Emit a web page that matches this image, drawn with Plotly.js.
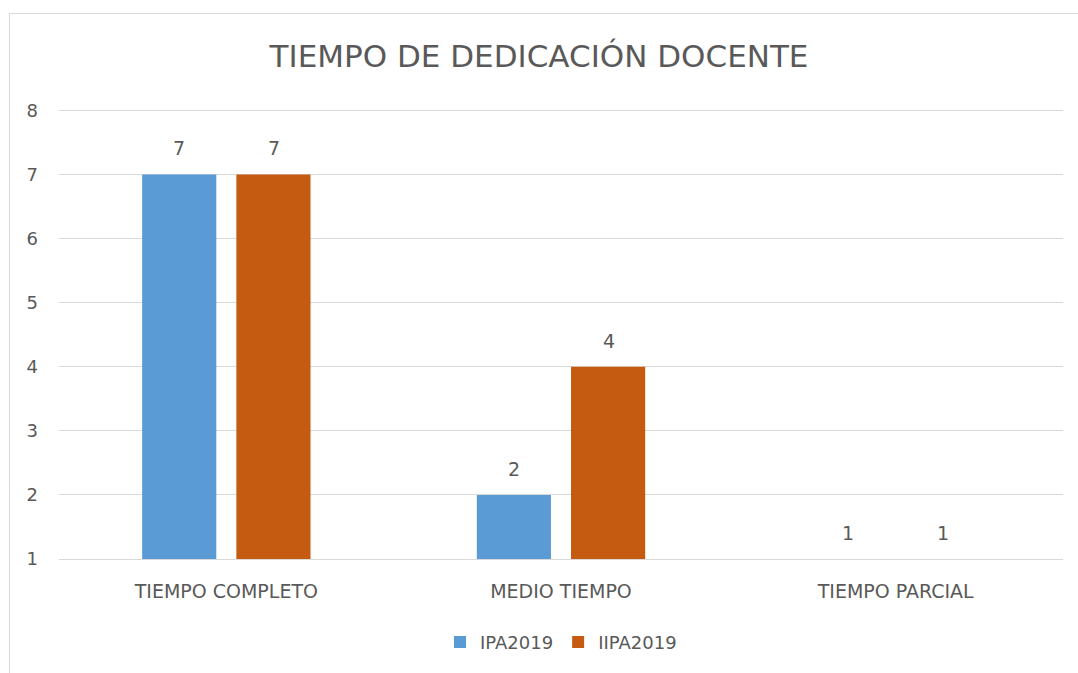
<!DOCTYPE html>
<html>
<head>
<meta charset="utf-8">
<script src="https://cdn.plot.ly/plotly-3.0.1.min.js"></script>
<style>
  html, body { margin:0; padding:0; background:#fff; }
  #frame { position:absolute; left:9px; top:13px; width:1080px; height:680px; border:1px solid #d9d9d9; box-sizing:border-box; }
  #chart { position:absolute; left:0; top:0; width:1078px; height:673px; }
</style>
</head>
<body>
<div id="frame"></div>
<div id="chart"></div>
<script>
const categories = ["TIEMPO COMPLETO", "MEDIO TIEMPO", "TIEMPO PARCIAL"];
const seriesNames = ["IPA2019", "IIPA2019"];
const ipa2019 = [7, 2, 1];
const iipa2019 = [7, 4, 1];
const yTicks = [1, 2, 3, 4, 5, 6, 7, 8];

const fontFam = "'DejaVu Sans', sans-serif";
const gray = "#595959";
const colors = ["#5B9BD5", "#C55A11"];
const seriesValues = [ipa2019, iipa2019];

const traces = seriesValues.map((vals, i) => ({
  type: "bar", name: seriesNames[i], x: categories, y: vals,
  marker: { color: colors[i] }, hoverinfo: "none"
}));

const annotations = [];
seriesValues.forEach((vals, i) => {
  vals.forEach((v, j) => {
    annotations.push({
      x: categories[j], y: v, xref: "x", yref: "y",
      text: String(v), showarrow: false,
      xanchor: "center", yanchor: "middle",
      xshift: i === 0 ? -47.5 : 47.5, yshift: 26,
      font: { family: fontFam, size: 19, color: gray }
    });
  });
});

const layout = {
  width: 1078, height: 673,
  paper_bgcolor: "rgba(0,0,0,0)", plot_bgcolor: "rgba(0,0,0,0)",
  margin: { l: 59, r: 15, t: 109, b: 114 },
  title: { text: "TIEMPO DE DEDICACIÓN DOCENTE", x: 0.5, xanchor: "center", y: 0.917, yanchor: "middle",
           font: { family: fontFam, size: 31, color: gray } },
  barmode: "group", bargap: 0.437, bargroupgap: 0.213,
  xaxis: { tickfont: { family: fontFam, size: 19, color: gray }, showline: true, linecolor: "#d9d9d9", linewidth: 1,
           ticks: "", showgrid: false, ticklabelstandoff: 15 },
  yaxis: { range: [1, 8.02], tickvals: yTicks, ticktext: yTicks.map(String), showgrid: true, gridcolor: "#d9d9d9",
           zeroline: false, showline: false, ticks: "", ticklabelstandoff: 20,
           tickfont: { family: fontFam, size: 18, color: gray } },
  annotations: annotations,
  showlegend: true,
  legend: { orientation: "h", x: 0.5, xanchor: "center", y: -0.185, yanchor: "middle",
            font: { family: fontFam, size: 18, color: gray }, itemwidth: 30, traceorder: "normal" }
};

Plotly.newPlot("chart", traces, layout, { displayModeBar: false, staticPlot: true });
</script>
</body>
</html>
